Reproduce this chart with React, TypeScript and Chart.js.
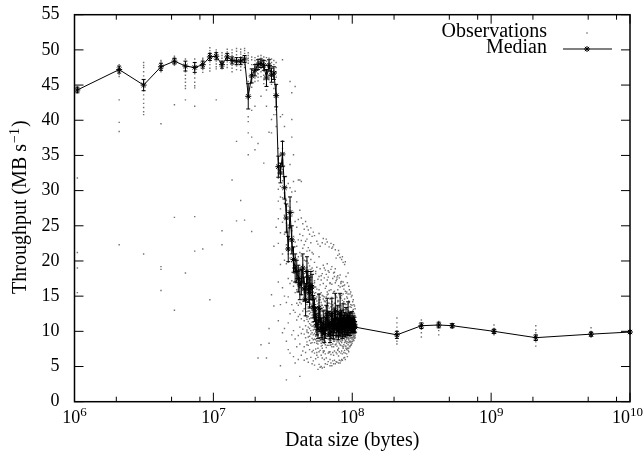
import React, { useEffect, useRef } from 'react';
import { Chart, registerables } from 'chart.js';

Chart.register(...registerables);

const MIB = 1048576;

// data sizes (MiB)
const sizesMiB = [
  1, 2, 3, 4, 5, 6, 7, 8, 9, 10,
  11, 12, 13, 14, 15, 16, 17, 18, 19, 20,
  21, 22, 23, 24, 25, 26, 27, 28, 29, 30,
  31, 32, 33, 34, 35, 36, 37, 38, 39, 40,
  41, 42, 43, 44, 45, 46, 47, 48, 49, 50,
  51, 52, 53, 54, 55, 56, 57, 58, 59, 60,
  61, 62, 63, 64, 65, 66, 67, 68, 69, 70,
  71, 72, 73, 74, 75, 76, 77, 78, 79, 80,
  81, 82, 83, 84, 85, 86, 87, 88, 89, 90,
  91, 92, 93, 94, 95, 96, 97, 98, 99, 100,
  200, 300, 400, 500, 1000, 2000, 5000, 9537,
];

// median throughput (MB/s)
const medianMBs = [
  44.3, 47.2, 45.0, 47.6, 48.4, 47.7, 47.5, 47.9, 49.0, 49.1,
  47.9, 49.0, 48.5, 48.4, 48.4, 48.7, 43.4, 46.3, 47.1, 47.9,
  48.1, 47.8, 46.0, 47.8, 46.4, 46.7, 43.5, 33.4, 32.5, 35.2,
  30.4, 26.1, 21.7, 26.9, 23.0, 20.2, 19.0, 18.5, 17.5, 16.6,
  17.0, 19.0, 16.0, 14.5, 18.5, 16.0, 15.5, 16.5, 16.3, 13.5,
  13.0, 12.0, 11.0, 10.3, 13.3, 11.6, 10.5, 10.0, 11.2, 9.7,
  10.5, 11.9, 12.5, 10.8, 11.2, 9.6, 10.8, 12.3, 11.0, 10.4,
  11.5, 12.8, 10.9, 10.5, 11.8, 10.2, 11.0, 12.6, 10.7, 11.3,
  10.4, 11.9, 10.8, 11.1, 10.5, 11.6, 10.9, 11.0, 12.0, 10.8,
  11.4, 10.6, 11.2, 10.9, 11.5, 10.8, 11.1, 10.7, 11.0, 10.6,
  9.5, 10.8, 10.9, 10.8, 10.0, 9.1, 9.6, 9.9,
];

// error bar half-widths (MB/s)
const medianErr = [
  0.4, 0.5, 0.8, 0.5, 0.4, 0.7, 0.7, 0.5, 0.5, 0.5,
  0.5, 0.5, 0.5, 0.5, 0.5, 0.5, 1.8, 1.0, 0.8, 0.7,
  0.6, 0.7, 1.2, 0.8, 1.0, 0.9, 1.6, 1.5, 1.4, 1.8,
  1.6, 2.0, 1.8, 2.2, 2.0, 1.8, 2.0, 1.6, 1.9, 2.1,
  1.8, 2.0, 1.7, 2.3, 2.1, 1.9, 2.2, 2.0, 1.8, 1.6,
  1.6, 1.4, 1.5, 1.3, 2.0, 1.6, 1.4, 1.2, 1.7, 1.3,
  1.5, 1.8, 2.2, 1.5, 1.6, 1.2, 1.8, 2.4, 1.6, 1.5,
  1.7, 2.6, 1.5, 1.3, 1.9, 1.4, 1.6, 2.8, 1.5, 1.7,
  1.4, 2.0, 1.5, 1.6, 1.3, 1.8, 1.4, 1.5, 2.2, 1.4,
  1.3, 1.2, 1.4, 1.1, 1.3, 1.0, 1.1, 0.9, 1.0, 0.8,
  0.5, 0.4, 0.4, 0.3, 0.3, 0.4, 0.3, 0.2,
];

// individual observations (MB/s), one list per data size
const obsValues = [
  [44.6, 44.1, 44.4, 43.9, 44.8, 44.2, 31.8, 21.2, 19.0, 15.5],
  [47.9, 47.6, 47.3, 47.0, 46.8, 46.5, 46.2, 47.4, 47.1, 42.9, 39.7, 38.4, 22.3],
  [48.2, 47.8, 47.5, 46.9, 46.3, 45.6, 45.2, 44.7, 44.2, 43.6, 43.0, 42.4, 41.8, 41.2, 40.8, 21.0],
  [48.5, 48.1, 47.8, 47.4, 47.1, 46.9, 48.3, 39.5, 19.2, 18.8, 15.8],
  [49.1, 48.8, 48.6, 48.2, 48.0, 47.8, 48.9, 42.2, 26.2, 13.0],
  [48.7, 48.3, 47.9, 47.4, 46.9, 46.4, 45.9, 45.4, 44.9, 44.5, 42.9, 18.3],
  [48.7, 48.2, 47.7, 47.2, 46.6, 46.0, 45.4, 44.9, 44.6, 42.0, 26.3, 21.4],
  [48.8, 48.4, 48.1, 47.6, 47.2, 46.8, 48.6, 21.7],
  [50.3, 49.9, 49.6, 49.3, 48.7, 48.3, 47.9, 47.4, 47.0, 14.5],
  [50.0, 49.7, 49.4, 48.8, 48.4, 48.0, 47.6, 47.3, 42.9],
  [49.6, 49.2, 48.8, 48.4, 48.1, 47.6, 47.3, 22.3, 24.3],
  [50.1, 49.7, 49.4, 48.7, 48.3, 47.9, 47.5],
  [50.0, 49.6, 49.2, 48.8, 48.2, 47.8, 47.4, 46.9, 31.5],
  [50.2, 49.8, 49.3, 48.9, 48.1, 47.7, 47.2, 37.0, 25.7],
  [50.1, 49.7, 49.4, 49.0, 48.6, 48.0, 47.6, 47.1, 28.6],
  [50.2, 49.9, 49.5, 49.1, 48.3, 47.9, 47.5, 25.8],
  [49.6, 49.2, 48.8, 48.5, 48.1, 45.5, 43.9, 43.0, 40.5, 39.8, 38.2, 35.1],
  [49.0, 48.6, 47.9, 47.2, 46.8, 45.9, 45.3, 44.7, 41.4, 37.6, 24.2],
  [48.9, 48.5, 48.0, 47.6, 46.5, 46.0, 45.5, 42.0, 35.8],
  [49.1, 48.7, 48.3, 47.5, 47.1, 46.6, 46.1, 45.6, 36.7, 6.2],
  [49.2, 48.8, 48.5, 47.8, 47.4, 46.9, 46.2, 43.4, 8.1],
  [49.0, 48.6, 48.2, 47.5, 47.0, 46.4, 45.8, 45.2, 33.9],
  [48.9, 48.4, 47.9, 47.2, 46.6, 45.7, 45.0, 44.3, 42.0, 6.2],
  [48.8, 48.4, 48.1, 47.4, 46.9, 46.4, 45.8, 38.3, 10.4, 8.3],
  [48.7, 48.2, 47.6, 47.0, 46.4, 45.9, 45.1, 38.2, 40.1, 15.2],
  [48.5, 47.9, 47.3, 46.8, 46.2, 45.4, 44.5, 40.8, 22.1, 13.6],
  [48.2, 47.5, 46.9, 46.1, 44.9, 43.8, 41.5, 40.8, 39.1, 24.8],
  [36.0, 34.5, 33.0, 31.8, 30.2, 28.5, 26.0, 22.5, 17.0, 11.5],
  [40.5, 35.0, 33.2, 32.0, 30.6, 29.1, 27.4, 24.0, 19.5, 13.8, 5.1],
  [48.6, 40.8, 37.1, 36.0, 34.3, 33.0, 31.4, 29.0, 25.5, 21.0, 16.2, 9.8],
  [39.1, 33.5, 31.9, 30.8, 29.7, 28.2, 26.5, 23.8, 20.1, 15.0, 10.4],
  [32.0, 30.5, 28.6, 27.2, 26.5, 25.4, 24.0, 22.3, 19.6, 14.1, 8.6, 3.1],
  [31.0, 27.8, 25.1, 23.4, 22.2, 21.0, 19.8, 17.5, 14.9, 11.2, 7.4],
  [45.5, 33.7, 30.4, 28.5, 27.6, 26.2, 24.9, 23.1, 20.4, 16.8, 12.5, 6.9],
  [43.9, 40.1, 37.6, 29.8, 26.4, 24.3, 22.6, 21.5, 19.9, 17.2, 13.8, 9.5],
  [35.1, 31.3, 26.9, 23.5, 21.9, 20.8, 19.6, 18.3, 16.4, 13.0, 10.1, 6.4],
  [44.8, 29.9, 25.6, 22.7, 20.5, 19.4, 18.6, 17.1, 15.5, 12.7, 8.9, 5.5],
  [28.4, 24.8, 22.1, 20.3, 19.2, 18.0, 17.2, 15.9, 14.0, 11.6, 7.8],
  [31.5, 25.9, 23.0, 20.6, 18.7, 17.9, 16.8, 15.6, 13.7, 12.1, 9.4, 6.0],
  [31.5, 27.2, 23.8, 21.2, 19.0, 17.4, 16.2, 15.3, 14.1, 12.4, 10.6, 8.2, 3.6],
  [31.3, 26.1, 22.9, 20.7, 18.6, 17.6, 16.5, 15.2, 13.9, 11.8, 9.7, 6.6],
  [25.3, 23.6, 21.8, 20.4, 19.5, 18.4, 17.5, 16.1, 14.6, 12.9, 10.3, 7.2],
  [24.5, 22.3, 20.1, 18.2, 17.0, 16.4, 15.5, 14.4, 13.2, 11.5, 9.6, 7.8, 5.9],
  [25.6, 22.8, 20.0, 17.8, 16.1, 15.0, 14.1, 13.3, 12.2, 10.8, 9.1, 7.0],
  [24.9, 23.1, 21.4, 20.0, 19.1, 18.0, 16.9, 15.4, 13.8, 12.0, 10.2, 8.5, 6.1],
  [24.4, 21.9, 19.7, 18.1, 16.9, 16.3, 15.4, 14.2, 12.9, 11.4, 9.8, 8.0, 5.6],
  [23.8, 21.5, 19.3, 17.6, 16.4, 15.9, 15.0, 13.8, 12.5, 11.1, 9.3, 7.4],
  [24.7, 22.6, 20.2, 18.5, 17.3, 16.8, 16.0, 14.7, 13.4, 11.9, 10.1, 8.3, 6.3],
  [23.5, 21.2, 19.0, 17.7, 16.8, 15.9, 14.8, 13.6, 12.3, 10.7, 9.0, 7.1, 5.4],
  [24.1, 21.0, 18.6, 16.5, 14.9, 14.0, 13.2, 12.4, 11.3, 10.2, 8.8, 7.3, 5.8],
  [23.6, 19.8, 17.2, 15.4, 14.1, 13.3, 12.6, 11.8, 10.9, 9.7, 8.4, 6.9, 5.2],
  [18.2, 18.5, 16.3, 14.7, 13.4, 12.5, 11.6, 10.8, 9.9, 8.8, 7.5, 6.1],
  [22.8, 19.1, 16.0, 14.3, 12.8, 11.7, 11.0, 10.3, 9.4, 8.3, 7.0, 6.6],
  [22.4, 17.4, 15.2, 13.5, 12.0, 11.1, 10.4, 9.6, 8.7, 7.6, 6.3, 4.6],
  [23.9, 20.6, 17.8, 15.9, 14.5, 13.6, 12.9, 12.1, 11.2, 10.0, 8.6, 7.1, 5.3],
  [22.1, 18.9, 16.6, 14.8, 13.1, 12.2, 11.4, 10.7, 9.8, 8.7, 7.3, 4.9],
  [17.3, 17.9, 15.5, 13.7, 12.3, 11.3, 10.6, 9.9, 9.0, 7.9, 6.6, 5.0],
  [22.6, 18.2, 15.1, 13.2, 11.9, 10.8, 10.1, 9.5, 8.6, 7.6, 6.2, 4.8],
  [23.2, 19.4, 16.8, 14.6, 13.0, 12.0, 11.3, 10.5, 9.6, 8.4, 7.0, 7.2],
  [19.0, 17.6, 14.9, 13.0, 11.5, 10.4, 9.8, 9.2, 8.3, 7.2, 6.0, 4.9],
  [22.4, 18.7, 16.1, 14.2, 12.6, 11.4, 10.6, 9.9, 9.1, 8.1, 6.8, 5.4],
  [23.1, 18.1, 16.4, 14.9, 13.5, 12.4, 11.7, 11.0, 10.2, 9.0, 7.7, 6.2],
  [22.7, 19.6, 17.3, 15.6, 14.0, 12.9, 12.3, 11.5, 10.6, 9.4, 8.0, 5.3],
  [18.6, 17.7, 15.3, 13.6, 12.2, 11.2, 10.6, 9.9, 9.0, 8.0, 6.9, 5.7],
  [22.0, 18.4, 15.8, 14.0, 12.5, 11.6, 11.0, 10.3, 9.5, 8.4, 7.1, 7.0],
  [16.8, 16.9, 14.6, 12.8, 11.3, 10.2, 9.4, 8.8, 8.0, 7.1, 6.0, 5.1],
  [22.5, 18.8, 15.9, 13.9, 12.4, 11.4, 10.7, 10.0, 9.2, 8.1, 6.7, 5.5],
  [21.8, 19.2, 16.7, 14.8, 13.5, 12.6, 12.0, 11.2, 10.3, 9.1, 7.8, 5.1],
  [22.0, 17.5, 15.4, 13.7, 12.3, 11.5, 10.8, 10.1, 9.3, 8.2, 7.0, 5.8],
  [22.3, 18.3, 15.6, 13.4, 11.8, 10.9, 10.2, 9.6, 8.8, 7.8, 6.6, 5.4],
  [18.4, 17.8, 15.7, 14.0, 12.7, 11.8, 11.2, 10.5, 9.7, 8.6, 7.2, 5.9],
  [21.6, 18.9, 16.9, 15.2, 14.0, 13.1, 12.4, 11.6, 10.8, 9.6, 8.1, 5.4],
  [20.4, 17.2, 15.0, 13.3, 12.0, 11.2, 10.6, 9.9, 9.1, 8.2, 7.0, 5.7],
  [17.7, 17.4, 14.8, 13.0, 11.7, 10.8, 10.2, 9.7, 8.9, 7.9, 6.8, 5.6],
  [20.8, 17.9, 15.9, 14.2, 12.9, 12.0, 11.4, 10.7, 9.9, 8.8, 7.4, 7.3],
  [21.5, 16.5, 14.3, 12.6, 11.2, 10.4, 9.8, 9.2, 8.5, 7.6, 6.5, 5.5],
  [21.0, 17.6, 15.2, 13.5, 12.2, 11.3, 10.7, 10.1, 9.3, 8.3, 7.1, 5.9],
  [20.5, 18.0, 16.3, 14.9, 13.7, 12.9, 12.2, 11.5, 10.6, 9.5, 8.1, 5.5],
  [17.0, 16.8, 14.7, 13.1, 11.8, 10.9, 10.3, 9.7, 9.0, 8.0, 6.9, 5.8],
  [20.2, 17.1, 15.1, 13.6, 12.3, 11.5, 10.9, 10.2, 9.4, 8.4, 7.2, 6.0],
  [20.6, 16.4, 14.4, 12.9, 11.6, 10.7, 10.1, 9.6, 8.8, 7.9, 6.8, 5.9],
  [19.8, 17.0, 15.3, 14.0, 12.8, 12.0, 11.4, 10.8, 10.0, 9.0, 7.8, 7.6],
  [16.5, 16.0, 14.2, 12.7, 11.5, 10.9, 10.3, 9.8, 9.0, 8.1, 7.0, 6.2],
  [19.5, 16.6, 14.6, 13.1, 11.9, 11.2, 10.6, 10.0, 9.3, 8.4, 7.3, 6.3],
  [19.9, 15.7, 13.9, 12.4, 11.3, 10.6, 10.0, 9.4, 8.7, 7.9, 6.9, 6.0],
  [17.8, 15.4, 13.8, 12.6, 11.8, 11.2, 10.7, 10.1, 9.4, 8.6, 7.6, 7.9],
  [15.6, 14.9, 13.2, 12.0, 11.3, 10.8, 10.3, 9.7, 9.1, 8.3, 7.4, 6.8],
  [16.9, 14.7, 13.1, 12.1, 11.4, 10.9, 10.4, 9.9, 9.2, 8.5, 7.6, 6.4],
  [18.3, 15.3, 13.9, 12.8, 12.2, 11.6, 11.1, 10.5, 9.8, 9.0, 8.1, 7.3],
  [16.4, 14.3, 12.9, 11.9, 11.2, 10.7, 10.2, 9.7, 9.1, 8.4, 7.6, 7.1],
  [15.9, 14.1, 12.8, 11.9, 11.3, 10.9, 10.4, 9.9, 9.3, 8.6, 7.9],
  [15.3, 13.5, 12.3, 11.4, 10.8, 10.4, 10.0, 9.5, 9.0, 8.4, 7.8],
  [15.6, 13.8, 12.6, 11.7, 11.1, 10.7, 10.3, 9.8, 9.2, 8.6, 8.0],
  [14.9, 13.4, 12.2, 11.4, 10.9, 10.5, 10.1, 9.6, 9.1, 8.5, 8.1],
  [15.1, 13.7, 12.6, 11.9, 11.3, 10.9, 10.5, 10.0, 9.5, 8.9, 8.3],
  [14.2, 12.9, 11.9, 11.2, 10.8, 10.4, 10.0, 9.6, 9.1, 8.6],
  [14.5, 13.1, 12.1, 11.4, 11.0, 10.6, 10.2, 9.8, 9.3, 8.8],
  [13.8, 12.6, 11.7, 11.0, 10.6, 10.3, 9.9, 9.5, 9.1, 8.7],
  [13.6, 12.5, 11.8, 11.2, 10.8, 10.4, 10.0, 9.7, 9.3, 9.0],
  [13.2, 12.2, 11.5, 11.0, 10.6, 10.3, 10.0, 9.7, 9.4, 9.1],
  [11.9, 11.2, 10.6, 10.1, 9.7, 9.5, 9.3, 9.0, 8.6, 8.2],
  [11.6, 11.1, 10.9, 10.8, 10.6, 10.3, 9.8, 9.2],
  [11.4, 11.0, 10.9, 10.8, 10.5, 10.1, 9.5],
  [11.0, 10.9, 10.8, 10.7, 10.5],
  [10.9, 10.4, 10.1, 10.0, 9.9, 9.7, 9.5],
  [10.8, 10.2, 9.8, 9.3, 9.1, 9.0, 8.5, 7.9],
  [10.5, 10.0, 9.8, 9.6, 9.5, 9.2],
  [10.0, 9.9, 9.8],
];

// further observations in the dense region (MB/s), sizes 45..100 MiB
const extraSizesMiB = [
  45, 46, 47, 48, 49, 50, 51, 52, 53, 54,
  55, 56, 57, 58, 59, 60, 61, 62, 63, 64,
  65, 66, 67, 68, 69, 70, 71, 72, 73, 74,
  75, 76, 77, 78, 79, 80, 81, 82, 83, 84,
  85, 86, 87, 88, 89, 90, 91, 92, 93, 94,
  95, 96, 97, 98, 99, 100,
];
const extraValues = [
  [14.2, 11.7, 9.9, 16.7, 12.8, 8.1],
  [13.5, 10.6, 15.8, 9.2, 12.1, 17.4],
  [12.9, 16.2, 10.4, 14.6, 8.7, 11.8],
  [15.1, 9.6, 12.7, 13.9, 10.9, 18.8],
  [11.3, 14.4, 9.8, 13.1, 16.1, 8.4],
  [12.7, 9.5, 15.6, 10.8, 13.9, 11.9],
  [10.3, 14.8, 12.1, 8.9, 11.5, 16.9],
  [13.8, 9.3, 11.2, 15.5, 10.1, 12.9],
  [9.8, 12.4, 14.9, 10.7, 8.6, 13.3],
  [11.6, 8.2, 13.9, 10.9, 12.6, 9.4],
  [14.1, 11.0, 9.1, 12.5, 15.3, 10.4],
  [10.2, 13.2, 8.9, 11.9, 14.5, 12.8],
  [12.0, 9.4, 14.1, 10.9, 8.3, 11.7],
  [9.1, 12.8, 10.6, 13.7, 11.3, 8.0],
  [13.4, 10.1, 11.8, 15.0, 9.2, 12.3],
  [10.9, 8.7, 12.2, 9.6, 14.3, 11.1],
  [11.9, 9.5, 13.0, 10.2, 12.4, 8.6],
  [12.9, 10.5, 14.4, 11.3, 9.6, 13.6],
  [13.7, 11.0, 9.9, 12.6, 15.2, 10.3],
  [10.3, 12.9, 8.9, 11.6, 14.0, 9.5],
  [12.0, 9.7, 13.3, 10.7, 11.4, 8.8],
  [9.0, 11.7, 10.1, 12.9, 8.4, 10.8],
  [11.1, 13.5, 9.5, 12.2, 10.4, 8.7],
  [12.9, 10.7, 14.2, 11.8, 9.9, 13.1],
  [10.5, 12.7, 9.0, 11.4, 13.8, 10.0],
  [9.9, 11.6, 8.6, 12.5, 10.6, 13.0],
  [11.0, 13.4, 9.8, 12.2, 10.3, 8.9],
  [12.1, 14.7, 10.9, 13.3, 11.5, 9.7],
  [10.4, 12.6, 9.3, 11.7, 13.5, 8.8],
  [9.6, 11.9, 10.7, 12.8, 8.5, 11.2],
  [11.6, 13.6, 10.0, 12.5, 9.4, 14.4],
  [9.5, 11.4, 10.5, 12.3, 8.8, 10.0],
  [10.6, 12.9, 9.6, 11.8, 13.4, 10.2],
  [12.4, 11.1, 13.9, 10.2, 14.8, 9.8],
  [10.1, 12.1, 9.3, 11.3, 8.6, 10.8],
  [11.1, 9.8, 12.7, 10.5, 13.3, 8.9],
  [9.9, 11.8, 10.4, 12.4, 8.7, 11.0],
  [11.7, 10.3, 13.1, 12.2, 9.5, 14.0],
  [10.0, 12.2, 9.4, 11.2, 13.0, 10.6],
  [11.5, 9.7, 12.6, 10.4, 8.9, 11.8],
  [10.3, 11.7, 9.2, 12.1, 10.8, 8.5],
  [11.3, 12.5, 10.2, 9.6, 13.2, 11.0],
  [10.6, 9.4, 11.7, 12.4, 10.1, 8.9],
  [11.2, 10.1, 12.3, 9.5, 11.7, 10.6],
  [11.8, 12.9, 10.9, 9.9, 13.4, 11.3],
  [10.5, 11.5, 9.4, 12.0, 10.0, 8.8],
  [11.1, 12.1, 10.6, 9.6, 11.6],
  [10.2, 11.0, 9.7, 12.0, 10.6],
  [10.9, 11.9, 10.0, 9.4, 11.4],
  [10.7, 9.8, 11.7, 10.3, 12.6],
  [11.1, 12.2, 10.2, 9.7, 11.6],
  [10.6, 9.9, 11.5, 10.2, 12.3],
  [10.8, 11.7, 10.0, 9.5, 12.5],
  [10.4, 11.3, 9.7, 10.9, 12.0],
  [10.6, 11.5, 9.8, 10.2, 12.1],
  [10.4, 11.2, 9.9, 10.8, 11.7],
];

const xTickValues = [1e6, 1e7, 1e8, 1e9, 1e10];
const xTickBase = '10';
const xTickExponents = ['6', '7', '8', '9', '10'];
const xMinorMultipliers = [2, 5, 8];
const yTickValues = [0, 5, 10, 15, 20, 25, 30, 35, 40, 45, 50, 55];
const yTitleParts = ['Throughput (MB s', '\u22121', ')'];
const legendLabels = ['Observations', 'Median'];

const SERIF = '"Liberation Serif", "DejaVu Serif", serif';

function drawStar(ctx: CanvasRenderingContext2D, x: number, y: number, r: number) {
  ctx.beginPath();
  ctx.moveTo(x - r, y); ctx.lineTo(x + r, y);
  ctx.moveTo(x, y - r); ctx.lineTo(x, y + r);
  const d = r * Math.SQRT1_2;
  ctx.moveTo(x - d, y - d); ctx.lineTo(x + d, y + d);
  ctx.moveTo(x - d, y + d); ctx.lineTo(x + d, y - d);
  ctx.stroke();
}

const errorBarPlugin = {
  id: 'errorBars',
  afterDatasetsDraw(chart: any) {
    const { ctx, chartArea, scales } = chart;
    const xs = scales.x, ys = scales.y;
    ctx.save();
    ctx.beginPath();
    ctx.rect(chartArea.left, chartArea.top, chartArea.right - chartArea.left + 4, chartArea.bottom - chartArea.top);
    ctx.clip();
    ctx.strokeStyle = '#000';
    ctx.lineWidth = 1;
    sizesMiB.forEach((s, i) => {
      const px = xs.getPixelForValue(s * MIB);
      const lo = ys.getPixelForValue(medianMBs[i] - medianErr[i]);
      const hi = ys.getPixelForValue(medianMBs[i] + medianErr[i]);
      ctx.beginPath();
      ctx.moveTo(px, lo); ctx.lineTo(px, hi);
      ctx.moveTo(px - 2, lo); ctx.lineTo(px + 2, lo);
      ctx.moveTo(px - 2, hi); ctx.lineTo(px + 2, hi);
      ctx.stroke();
    });
    ctx.restore();
  },
};

const framePlugin = {
  id: 'frameTicksLegend',
  afterDraw(chart: any) {
    const { ctx, chartArea, scales } = chart;
    const { left, right, top, bottom } = chartArea;
    const xs = scales.x, ys = scales.y;
    ctx.save();
    ctx.strokeStyle = '#000';
    ctx.lineWidth = 1;
    ctx.beginPath();
    xTickValues.forEach((v) => {
      const px = xs.getPixelForValue(v);
      ctx.moveTo(px, bottom); ctx.lineTo(px, bottom - 9);
      ctx.moveTo(px, top); ctx.lineTo(px, top + 9);
    });
    xTickValues.slice(0, -1).forEach((v) => {
      xMinorMultipliers.forEach((m) => {
        const px = xs.getPixelForValue(v * m);
        ctx.moveTo(px, bottom); ctx.lineTo(px, bottom - 5);
        ctx.moveTo(px, top); ctx.lineTo(px, top + 5);
      });
    });
    yTickValues.forEach((v) => {
      const py = ys.getPixelForValue(v);
      ctx.moveTo(left, py); ctx.lineTo(left + 9, py);
      ctx.moveTo(right, py); ctx.lineTo(right - 9, py);
    });
    ctx.stroke();
    ctx.lineWidth = 1.5;
    ctx.strokeRect(left, top, right - left, bottom - top);

    // x tick labels: 10 with superscript exponent
    ctx.fillStyle = '#000';
    ctx.textBaseline = 'alphabetic';
    ctx.textAlign = 'left';
    const baseFont = '18px ' + SERIF;
    const supFont = '13px ' + SERIF;
    xTickValues.forEach((v, i) => {
      const px = xs.getPixelForValue(v);
      ctx.font = baseFont;
      const wb = ctx.measureText(xTickBase).width;
      ctx.font = supFont;
      const we = ctx.measureText(xTickExponents[i]).width;
      let x0 = px - (wb + we) / 2;
      if (x0 + wb + we > 643) x0 = 643 - wb - we;
      ctx.font = baseFont;
      ctx.fillText(xTickBase, x0, 423);
      ctx.font = supFont;
      ctx.fillText(xTickExponents[i], x0 + wb, 416);
    });

    // y title, rotated, with superscript
    ctx.save();
    ctx.translate(26, (top + bottom) / 2);
    ctx.rotate(-Math.PI / 2);
    ctx.font = '20px ' + SERIF;
    const w0 = ctx.measureText(yTitleParts[0]).width;
    const w2 = ctx.measureText(yTitleParts[2]).width;
    ctx.font = '14px ' + SERIF;
    const w1 = ctx.measureText(yTitleParts[1]).width;
    let tx = -(w0 + w1 + w2) / 2;
    ctx.font = '20px ' + SERIF;
    ctx.fillText(yTitleParts[0], tx, 0);
    tx += w0;
    ctx.font = '14px ' + SERIF;
    ctx.fillText(yTitleParts[1], tx + 1, -7);
    tx += w1 + 2;
    ctx.font = '20px ' + SERIF;
    ctx.fillText(yTitleParts[2], tx, 0);
    ctx.restore();

    // legend
    ctx.fillStyle = '#000';
    ctx.font = '20px ' + SERIF;
    ctx.textAlign = 'right';
    ctx.textBaseline = 'alphabetic';
    ctx.fillText(legendLabels[0], 547, 37);
    ctx.fillText(legendLabels[1], 547, 53);
    ctx.fillStyle = '#707070';
    ctx.fillRect(586.3, 32.3, 1.4, 1.4);
    ctx.lineWidth = 1;
    ctx.strokeStyle = '#000';
    ctx.beginPath();
    ctx.moveTo(563, 49); ctx.lineTo(612, 49);
    ctx.stroke();
    drawStar(ctx, 587, 49, 3);
    ctx.restore();
  },
};

export default function App() {
  const ref = useRef<HTMLCanvasElement>(null);
  useEffect(() => {
    const canvas = ref.current;
    if (!canvas) return;
    const obsPoints: { x: number; y: number }[] = [];
    sizesMiB.forEach((s, i) => {
      obsValues[i].forEach((v) => obsPoints.push({ x: s * MIB, y: v }));
    });
    extraSizesMiB.forEach((s, i) => {
      extraValues[i].forEach((v) => obsPoints.push({ x: s * MIB, y: v }));
    });
    const medPoints = sizesMiB.map((s, i) => ({ x: s * MIB, y: medianMBs[i] }));

    const chart = new Chart(canvas, {
      type: 'scatter',
      data: {
        datasets: [
          {
            label: legendLabels[0],
            data: obsPoints,
            pointStyle: 'rect',
            pointRadius: 1,
            backgroundColor: '#707070',
            borderWidth: 0,
            showLine: false,
            order: 1,
          } as any,
          {
            label: legendLabels[1],
            data: medPoints,
            showLine: true,
            borderColor: '#000',
            borderWidth: 1,
            pointStyle: 'star',
            pointRadius: 3,
            pointBorderColor: '#000',
            pointBorderWidth: 1,
            pointBackgroundColor: '#000',
            order: 0,
            clip: 6,
          } as any,
        ],
      },
      options: {
        responsive: false,
        animation: false,
        events: [],
        layout: { padding: { top: 14.7, right: 13, bottom: 0, left: 0 } },
        plugins: { legend: { display: false }, tooltip: { enabled: false } },
        scales: {
          x: {
            type: 'logarithmic',
            min: 1e6,
            max: 1e10,
            grid: { display: false, drawTicks: false },
            border: { display: false },
            ticks: { display: false },
            afterBuildTicks: (s: any) => {
              s.ticks = xTickValues.map((v) => ({ value: v }));
            },
            afterFit: (s: any) => {
              s.height = 51.3;
              s.paddingLeft = 0;
              s.paddingRight = 0;
            },
            title: {
              display: true,
              text: 'Data size (bytes)',
              font: { family: SERIF, size: 20 },
              color: '#000',
              padding: { top: 0, bottom: 0 },
            },
          },
          y: {
            type: 'linear',
            min: 0,
            max: 55,
            grid: { display: false, drawTicks: false },
            border: { display: false },
            ticks: {
              font: { family: SERIF, size: 18 },
              color: '#000',
              padding: 15,
              stepSize: 5,
            },
            afterFit: (s: any) => {
              s.width = 74.5;
              s.paddingTop = 0;
              s.paddingBottom = 0;
            },
            title: { display: false },
          },
        },
      } as any,
      plugins: [errorBarPlugin, framePlugin],
    });
    return () => chart.destroy();
  }, []);

  return (
    <div style={{ position: 'absolute', left: 0, top: 0, width: 643, height: 453, background: '#fff' }}>
      <canvas ref={ref} width={643} height={453} style={{ width: 643, height: 453, display: 'block' }} />
    </div>
  );
}
